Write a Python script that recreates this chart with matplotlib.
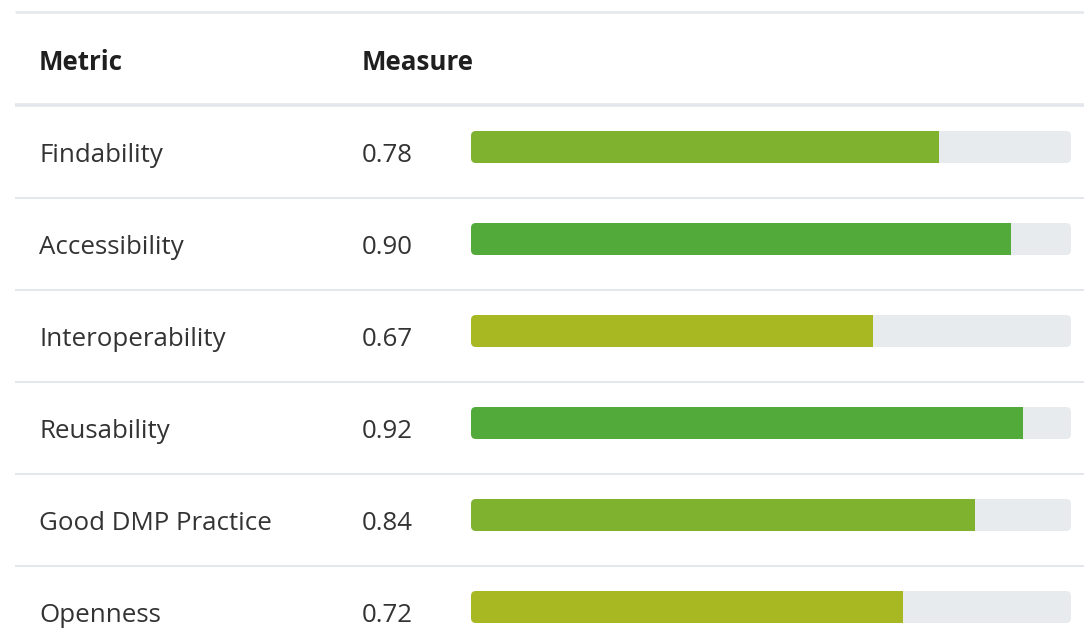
import matplotlib.pyplot as plt
from matplotlib.patches import FancyBboxPatch

plt.rcParams['font.family'] = ['Open Sans', 'DejaVu Sans']

metrics = ["Findability", "Accessibility", "Interoperability", "Reusability",
           "Good DMP Practice", "Openness"]
measures = [0.78, 0.90, 0.67, 0.92, 0.84, 0.72]


def bar_color(v):
    if v >= 0.85:
        return "#52aa3a"
    if v >= 0.75:
        return "#7fb22e"
    return "#a8b822"


W, H = 1084, 630
fig = plt.figure(figsize=(W / 100, H / 100), dpi=100)

# pixel-based layout axes for text and rules
ax = fig.add_axes([0, 0, 1, 1])
ax.set_xlim(0, W)
ax.set_ylim(H, 0)
ax.axis("off")

text_col = "#333333"
line_col = "#e3e6ea"
fs = 18.6

ax.plot([15, W], [12, 12], color=line_col, lw=1.8, solid_capstyle="butt")
ax.plot([15, W], [105, 105], color=line_col, lw=2.6, solid_capstyle="butt")
ax.text(39, 62, "Metric", fontsize=fs, fontweight="bold", color="#1f1f1f", va="center")
ax.text(362, 62, "Measure", fontsize=fs, fontweight="bold", color="#1f1f1f", va="center")

first_center = 147
pitch = 92
bar_h = 32
centers = [first_center + i * pitch for i in range(len(metrics))]

for i, (name, val) in enumerate(zip(metrics, measures)):
    c = centers[i]
    ax.text(39, c + 9, name, fontsize=fs, color=text_col, va="center")
    ax.text(362, c + 9, f"{val:.2f}", fontsize=fs, color=text_col, va="center")
    if i < len(metrics) - 1:
        ax.plot([15, W], [c + 51, c + 51], color=line_col, lw=1.4, solid_capstyle="butt")

# bar axes: x is the measure (0..1), y in pixel rows
bx0, bw = 471, 600
bax = fig.add_axes([bx0 / W, 0, bw / W, 1])
bax.set_xlim(0, 1)
bax.set_ylim(H, 0)
bax.axis("off")

r = 5 / bw
for i, val in enumerate(measures):
    c = centers[i]
    track = FancyBboxPatch((0, c - bar_h / 2), 1, bar_h,
                           boxstyle=f"round,pad=0,rounding_size={r}",
                           mutation_aspect=bw, facecolor="#e8ebee",
                           edgecolor="none")
    bax.add_patch(track)
    bars = bax.barh([c], [val], height=bar_h, left=0, color=bar_color(val))
    for b in bars:
        b.set_clip_path(track)

fig.savefig("out.png", dpi=100)
